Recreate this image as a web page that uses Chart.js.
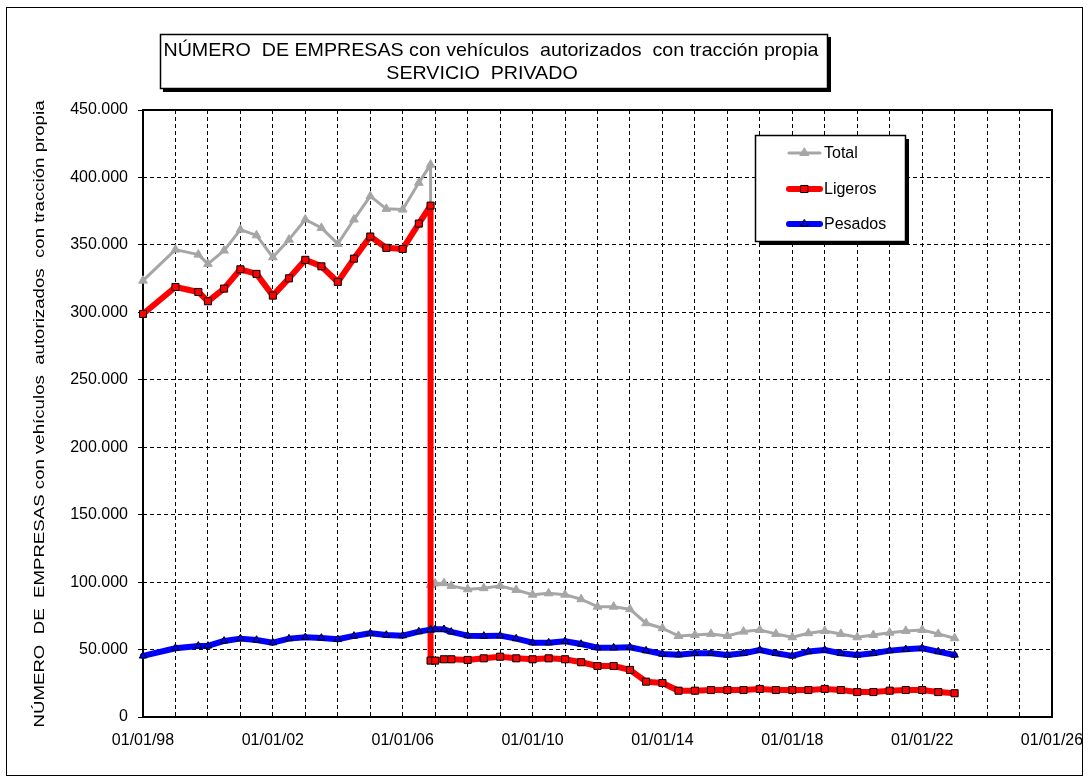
<!DOCTYPE html>
<html><head><meta charset="utf-8">
<script src="https://cdn.jsdelivr.net/npm/chart.js@4.4.1/dist/chart.umd.min.js"></script>
<style>html,body{margin:0;padding:0;background:#fff;} canvas{display:block;}</style>
</head><body>
<canvas id="c" width="1090" height="783"></canvas>
<script>
// ---- DATA ----
const dates = [
 '1998-01-01','1999-01-01','1999-09-15','2000-01-01','2000-07-01','2001-01-01','2001-07-01',
 '2002-01-01','2002-07-01','2003-01-01','2003-07-01','2004-01-01','2004-07-01','2005-01-01',
 '2005-07-01','2006-01-01','2006-07-01','2006-11-10','2006-11-10','2007-01-01','2007-04-10',
 '2007-07-01','2008-01-01','2008-07-01','2009-01-01','2009-07-01','2010-01-01','2010-07-01',
 '2011-01-01','2011-07-01','2012-01-01','2012-07-01','2013-01-01','2013-07-01','2014-01-01',
 '2014-07-01','2015-01-01','2015-07-01','2016-01-01','2016-07-01','2017-01-01','2017-07-01',
 '2018-01-01','2018-07-01','2019-01-01','2019-07-01','2020-01-01','2020-07-01','2021-01-01',
 '2021-07-01','2022-01-01','2022-07-01','2023-01-01'
];
const totalValues = [
 323500,346500,342800,335900,345800,361300,357100,340800,353900,368800,362600,350700,368800,386100,
 376700,376200,396000,409500,97900,99000,99200,97200,94700,95500,97200,94200,90700,91700,
 90700,87300,81800,81800,79900,69500,65800,60100,60800,61600,60100,63300,64500,61600,
 59100,62100,63800,61600,59100,60800,62500,63800,64500,61600,58400
];
const ligerosValues = [
 298800,318800,315100,308200,317600,331900,328500,312400,325200,338900,334100,322500,339800,356200,
 347800,347000,365800,379100,41800,41800,42800,42800,42300,43500,44700,43500,42800,43500,
 42800,40600,37800,37800,34900,26200,25200,19500,19500,20000,20000,20000,20800,20000,
 20000,20000,20800,20000,18500,18500,19500,20000,20000,18500,17600
];
const pesadosValues = [
 45300,51000,52700,52700,56400,58100,57100,55100,58100,59100,58600,57600,60100,62100,
 60800,60300,63300,64800,64500,65000,65000,63100,60300,60100,60300,58100,55100,55100,
 56100,54100,51400,51400,51700,49200,46700,46200,47200,47200,46000,47200,49700,47200,
 45300,48500,49700,47200,46000,47200,49200,50200,51000,48500,46000
];
const seriesNames = ['Total','Ligeros','Pesados'];
const xTickYears = [1998,2002,2006,2010,2014,2018,2022,2026];
const xTickLabels = ['01/01/98','01/01/02','01/01/06','01/01/10','01/01/14','01/01/18','01/01/22','01/01/26'];
const titleLines = ['NÚMERO  DE EMPRESAS con vehículos  autorizados  con tracción propia','SERVICIO  PRIVADO'];
const yAxisTitle = 'NÚMERO  DE  EMPRESAS con vehículos  autorizados  con tracción propia';

// ---- helpers ----
function decYear(s){
  const [y,m,d]=s.split('-').map(Number);
  const a=Date.UTC(y,0,1), b=Date.UTC(y+1,0,1);
  return y+(Date.UTC(y,m-1,d)-a)/(b-a);
}
const xs = dates.map(decYear);
const toPts = vals => vals.map((v,i)=>({x:xs[i],y:v}));
const FONT = "'Liberation Sans', Arial, sans-serif";
function fmt(v){ return String(Math.round(v)).replace(/\B(?=(\d{3})+(?!\d))/g,'.'); }

const styles = [
  {color:'#a6a6a6', width:3, shape:'triangle', r:5, fill:'#a6a6a6', stroke:'#a6a6a6', order:2},
  {color:'#ff0000', width:6, shape:'rect', r:5, fill:'#ff0000', stroke:'#000', order:1},
  {color:'#0000ff', width:6, shape:'triangle', r:4.3, fill:'#0000ff', stroke:'#000', order:0}
];
const seriesVals = [totalValues, ligerosValues, pesadosValues];

function drawMarker(ctx, st, x, y){
  ctx.save();
  ctx.fillStyle=st.fill; ctx.strokeStyle=st.stroke; ctx.lineWidth=1;
  ctx.beginPath();
  if(st.shape==='rect'){
    const s=st.r*Math.SQRT1_2;
    ctx.rect(x-s,y-s,2*s,2*s);
  } else {
    const r=st.r;
    ctx.moveTo(x, y-r);
    ctx.lineTo(x+r*0.866, y+r/2);
    ctx.lineTo(x-r*0.866, y+r/2);
    ctx.closePath();
  }
  ctx.fill(); ctx.stroke();
  ctx.restore();
}

const decor = {
  id:'decor',
  beforeDraw(chart){
    const ctx=chart.ctx;
    ctx.save();
    ctx.fillStyle='#fff'; ctx.fillRect(0,0,chart.width,chart.height);
    ctx.strokeStyle='#000'; ctx.lineWidth=1;
    ctx.strokeRect(6.5,7.5,1076,768);
    ctx.restore();
  },
  beforeDatasetsDraw(chart){
    const {ctx, chartArea:a}=chart;
    ctx.save();
    ctx.strokeStyle='#000'; ctx.lineWidth=2;
    ctx.strokeRect(a.left, a.top, a.right-a.left, a.bottom-a.top);
    ctx.restore();
  },
  afterDraw(chart){
    const ctx=chart.ctx;
    ctx.save();
    // title box
    ctx.fillStyle='#000'; ctx.fillRect(163,37,668,55);
    ctx.fillStyle='#fff'; ctx.fillRect(160,34,667,54);
    ctx.strokeStyle='#000'; ctx.lineWidth=1.5; ctx.strokeRect(160.5,34.5,667,54);
    ctx.fillStyle='#000';
    ctx.font='19px '+FONT; ctx.textBaseline='alphabetic'; ctx.textAlign='center';
    const w1=ctx.measureText(titleLines[0]).width;
    const sx=655/w1;
    ctx.save(); ctx.translate(491,56); ctx.scale(sx,1); ctx.fillText(titleLines[0],0,0); ctx.restore();
    ctx.save(); ctx.translate(482,79); ctx.scale(sx,1); ctx.fillText(titleLines[1],0,0); ctx.restore();

    // legend box
    ctx.fillStyle='#000'; ctx.fillRect(759,139,150,106);
    ctx.fillStyle='#fff'; ctx.fillRect(755,135,150,106);
    ctx.lineWidth=1.5; ctx.strokeRect(755.5,135.5,150,106);
    const rows=[153,189,224];
    ctx.font='16px '+FONT; ctx.textAlign='left'; ctx.textBaseline='middle';
    seriesNames.forEach((n,i)=>{
      const st=styles[i], y=rows[i];
      ctx.strokeStyle=st.color; ctx.lineWidth=st.width; ctx.lineCap='round';
      ctx.beginPath(); ctx.moveTo(789,y); ctx.lineTo(820,y); ctx.stroke();
      drawMarker(ctx, st, 804.5, y);
      ctx.fillStyle='#000'; ctx.fillText(n, 824, y+1);
    });

    // y axis title
    ctx.font='15px '+FONT; ctx.textAlign='center'; ctx.textBaseline='middle';
    const wy=ctx.measureText(yAxisTitle).width;
    ctx.translate(40,414); ctx.rotate(-Math.PI/2); ctx.scale(627/wy,1);
    ctx.fillStyle='#000'; ctx.fillText(yAxisTitle,0,0);
    ctx.restore();
  }
};

const datasets = seriesNames.map((n,i)=>({
  label:n,
  data:toPts(seriesVals[i]),
  borderColor:styles[i].color,
  backgroundColor:styles[i].fill,
  borderWidth:styles[i].width,
  pointStyle:styles[i].shape,
  pointRadius:styles[i].r,
  pointBackgroundColor:styles[i].fill,
  pointBorderColor:styles[i].stroke,
  pointBorderWidth:1,
  tension:0,
  borderJoinStyle:'round',
  borderCapStyle:'round',
  order:styles[i].order,
  clip:false
}));

new Chart(document.getElementById('c'), {
  type:'line',
  data:{datasets},
  options:{
    responsive:false,
    animation:false,
    events:[],
    layout:{padding:{top:110,right:38,bottom:0,left:0}},
    plugins:{legend:{display:false},title:{display:false},tooltip:{enabled:false}},
    scales:{
      x:{
        type:'linear', min:1998, max:2026,
        afterFit(s){ s.height=66; s.paddingLeft=0; s.paddingRight=0; },
        grid:{color:'#000', lineWidth:1, drawTicks:false},
        border:{display:false, dash:[4,3]},
        ticks:{
          stepSize:1, autoSkip:false, maxRotation:0, padding:14,
          color:'#000', font:{family:FONT,size:16},
          callback(v){ const i=xTickYears.indexOf(Math.round(v)); return i>=0?xTickLabels[i]:''; }
        }
      },
      y:{
        min:0, max:450000,
        afterFit(s){ s.width=143; s.paddingTop=0; s.paddingBottom=0; },
        grid:{color:'#000', lineWidth:1, drawTicks:true, tickLength:5},
        border:{display:false, dash:[4,3]},
        ticks:{
          stepSize:50000, padding:10, color:'#000', font:{family:FONT,size:16},
          callback(v){ return fmt(v); }
        }
      }
    }
  },
  plugins:[decor]
});
</script>
</body></html>
